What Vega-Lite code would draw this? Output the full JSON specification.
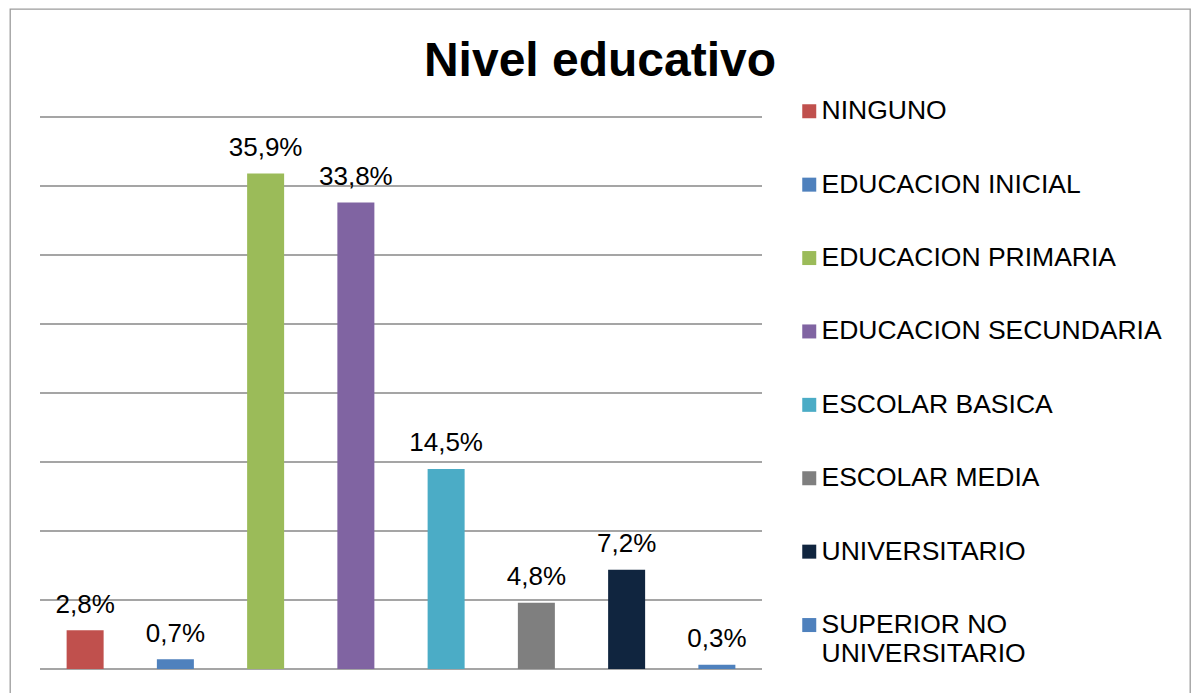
{
  "$schema": "https://vega.github.io/schema/vega-lite/v6.json",
  "width": 1180,
  "height": 700,
  "padding": {"left": 10, "top": 9, "right": 5, "bottom": 0},
  "autosize": {"type": "pad"},
  "background": "white",
  "title": {
    "text": "Nivel educativo",
    "fontSize": 48,
    "fontWeight": "bold",
    "font": "Liberation Sans",
    "color": "black",
    "anchor": "middle",
    "frame": "group",
    "baseline": "alphabetic",
    "offset": -115
  },
  "config": {
    "font": "Liberation Sans",
    "view": {"stroke": "#9c9c9c", "strokeWidth": 1.3},
    "locale": {
      "number": {"decimal": ",", "thousands": ".", "grouping": [3], "currency": ["", " €"]}
    }
  },
  "datasets": {
    "niveles": [
      {"nivel": "NINGUNO", "valor": 0.028},
      {"nivel": "EDUCACION INICIAL", "valor": 0.007},
      {"nivel": "EDUCACION PRIMARIA", "valor": 0.359},
      {"nivel": "EDUCACION SECUNDARIA", "valor": 0.338},
      {"nivel": "ESCOLAR BASICA", "valor": 0.145},
      {"nivel": "ESCOLAR MEDIA", "valor": 0.048},
      {"nivel": "UNIVERSITARIO", "valor": 0.072},
      {"nivel": "SUPERIOR NO UNIVERSITARIO", "valor": 0.003}
    ],
    "grid": [
      {"g": 0}, {"g": 0.05}, {"g": 0.1}, {"g": 0.15}, {"g": 0.2},
      {"g": 0.25}, {"g": 0.3}, {"g": 0.35}, {"g": 0.4}
    ]
  },
  "resolve": {"scale": {"x": "independent"}, "axis": {"x": "independent"}},
  "layer": [
    {
      "data": {"name": "grid"},
      "mark": {"type": "rule", "color": "#878787", "strokeWidth": 1.4},
      "encoding": {
        "x": {"datum": 0, "type": "quantitative", "scale": {"domain": [0, 1], "range": [30, 752]}, "axis": null},
        "x2": {"datum": 1},
        "y": {"field": "g", "type": "quantitative", "scale": {"domain": [0, 0.4], "range": [660, 108], "nice": false, "zero": false}, "axis": null}
      }
    },
    {
      "data": {"name": "niveles"},
      "layer": [
        {
          "mark": {"type": "bar"},
          "encoding": {
            "x": {"field": "nivel", "type": "nominal", "sort": null, "axis": null,
                  "scale": {"range": [30, 752], "paddingInner": 0.59, "paddingOuter": 0.295}},
            "y": {"field": "valor", "type": "quantitative", "axis": null},
            "color": {
              "field": "nivel", "type": "nominal", "sort": null,
              "scale": {
                "domain": ["NINGUNO", "EDUCACION INICIAL", "EDUCACION PRIMARIA", "EDUCACION SECUNDARIA", "ESCOLAR BASICA", "ESCOLAR MEDIA", "UNIVERSITARIO", "SUPERIOR NO UNIVERSITARIO"],
                "range": ["#C0504D", "#4F81BD", "#9BBB59", "#8064A2", "#4BACC6", "#7F7F7F", "#10253F", "#4F81BD"]
              },
              "legend": {
                "title": null,
                "orient": "none",
                "legendX": 786,
                "legendY": 89,
                "padding": 0,
                "symbolType": "square",
                "symbolSize": 196,
                "symbolStrokeWidth": 0,
                "symbolOpacity": 1,
                "labelFont": "Liberation Sans",
                "labelFontSize": 26.5,
                "labelColor": "black",
                "labelOffset": -1,
                "labelLimit": 500,
                "rowPadding": 46.4,
                "labelExpr": "datum.label == 'SUPERIOR NO UNIVERSITARIO' ? ['SUPERIOR NO', 'UNIVERSITARIO'] : datum.label"
              }
            }
          }
        },
        {
          "mark": {"type": "text", "fontSize": 26, "font": "Liberation Sans", "color": "black", "baseline": "alphabetic", "dy": -17.5},
          "encoding": {
            "x": {"field": "nivel", "type": "nominal", "sort": null, "axis": null},
            "y": {"field": "valor", "type": "quantitative", "axis": null},
            "text": {"field": "valor", "type": "quantitative", "format": ".1%"}
          }
        }
      ]
    }
  ]
}
